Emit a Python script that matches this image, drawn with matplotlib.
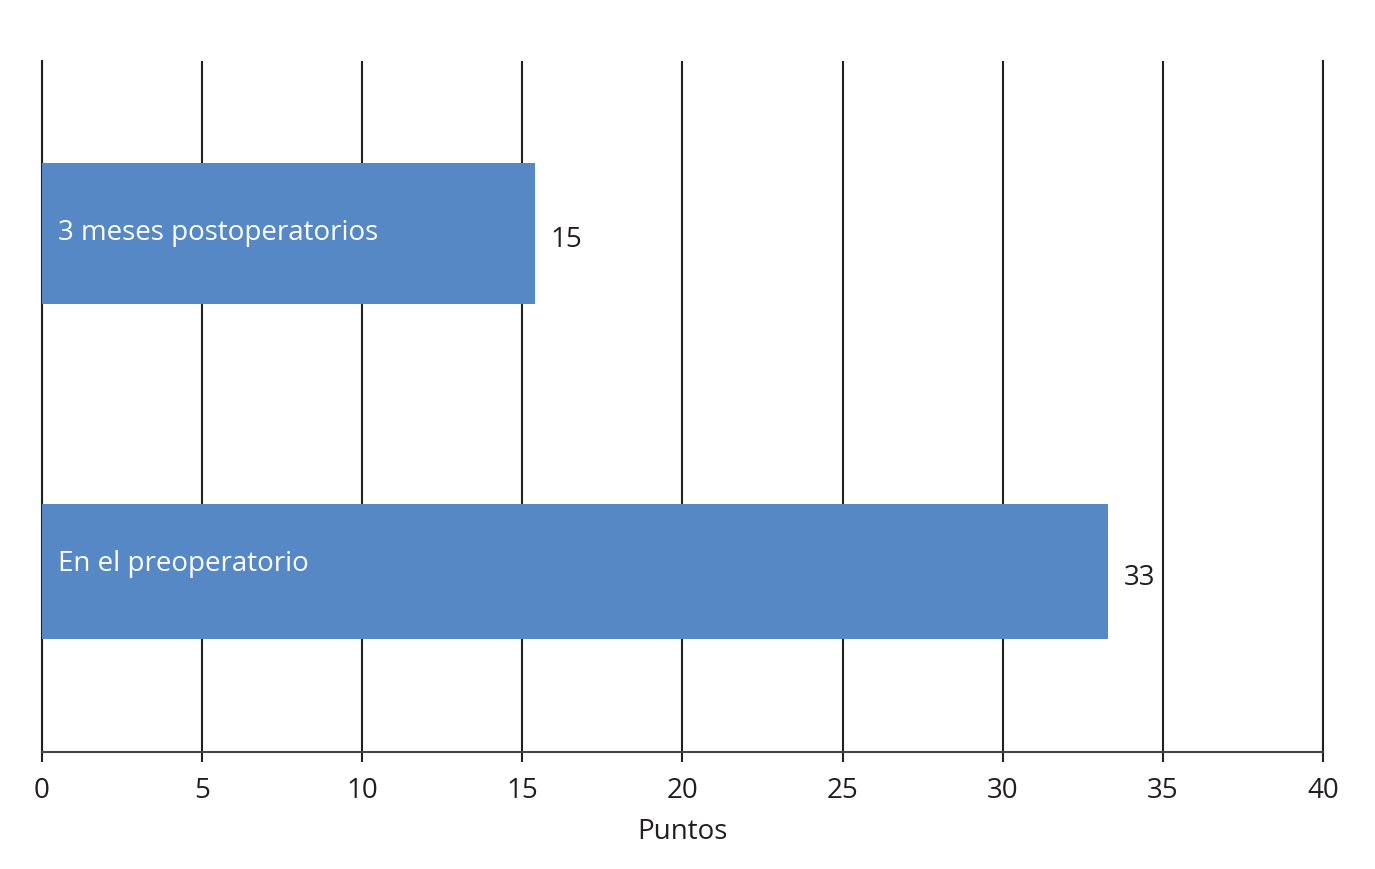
import matplotlib.pyplot as plt

plt.rcParams['font.family'] = ['Open Sans', 'DejaVu Sans']

# data
categories = ['En el preoperatorio', '3 meses postoperatorios']
puntos = [33.3, 15.4]
value_labels = ['33', '15']
bar_heights = [0.40, 0.42]
xticks = [0, 5, 10, 15, 20, 25, 30, 35, 40]

bar_color = '#5588c4'
line_color = '#231f20'
name_offsets = [6, 1]  # small vertical nudge of the white names, in points

fig = plt.figure(figsize=(13.75, 8.7), dpi=100)
ax = fig.add_axes([0.0305, 0.1345, 0.9316, 0.7942])

ypos = list(range(len(categories)))
bars = ax.barh(ypos, puntos, height=bar_heights, color=bar_color, zorder=3)

for b, cat, off in zip(bars, categories, name_offsets):
	ax.annotate(cat, xy=(0.5, b.get_y() + b.get_height() / 2),
				xytext=(0, off), textcoords='offset points',
				color='white', fontsize=20, va='center', ha='left', zorder=4)

for b, lab in zip(bars, value_labels):
	ax.annotate(lab, xy=(b.get_width(), b.get_y() + b.get_height() / 2),
				xytext=(11, -4), textcoords='offset points',
				va='center', ha='left', fontsize=20, color=line_color)

ax.set_xlim(0, 40)
ax.set_ylim(-0.536, 1.511)
ax.set_xticks(xticks)
ax.set_xticklabels([str(t) for t in xticks])
ax.set_yticks([])

ax.grid(axis='x', color=line_color, linewidth=1.5, zorder=0)
ax.set_axisbelow(True)
ax.spines['top'].set_visible(False)
for s in ['left', 'right']:
	ax.spines[s].set_color(line_color)
	ax.spines[s].set_linewidth(1.5)
ax.spines['bottom'].set_color('#444444')
ax.spines['bottom'].set_linewidth(1.5)

ax.tick_params(axis='x', length=7, width=1.5, color=line_color, labelsize=20,
			   labelcolor=line_color, pad=10)
ax.set_xlabel('Puntos', fontsize=20, color=line_color, labelpad=10)

fig.savefig('out.png', dpi=100, facecolor='white')
